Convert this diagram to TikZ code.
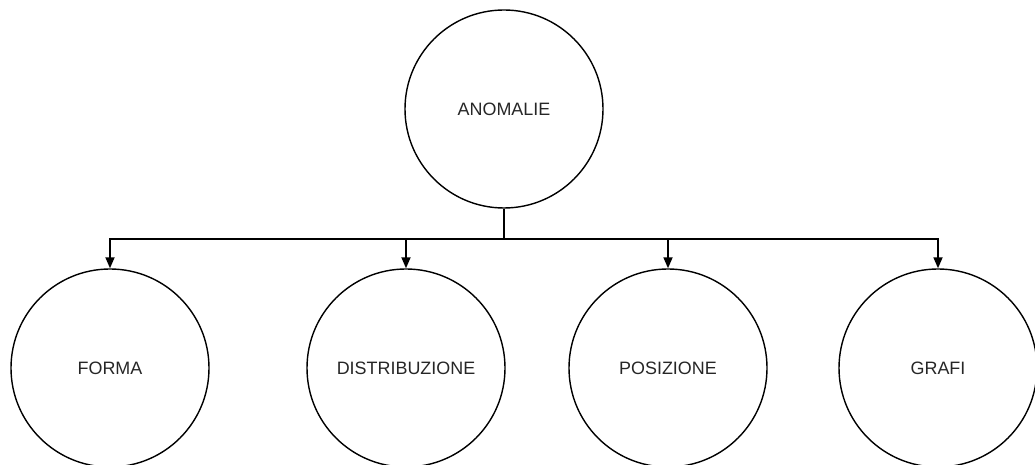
\documentclass[tikz,border=0pt]{standalone}
\usepackage{fontspec}
\setmainfont{Liberation Sans}
\usepackage{tikz}
\usetikzlibrary{arrows.meta,positioning}

\tikzset{
    blob/.style={circle, draw, line width=0.8pt, minimum size=3.96cm, inner sep=0pt, text=black!85, font=\fontsize{10.2}{12}\selectfont},
    link/.style={line width=1pt},
}

\begin{document}
\begin{tikzpicture}
    \useasboundingbox (0,0) rectangle (20.7,9.3);

    % Root
    \node[blob] (anomalie) at (10.08,7.12) {ANOMALIE};

    % Children
    \node[blob] (forma) at (2.2,1.94) {FORMA};
    \node[blob] (distribuzione) at (8.12,1.94) {DISTRIBUZIONE};
    \node[blob] (posizione) at (13.36,1.94) {POSIZIONE};
    \node[blob] (grafi) at (18.76,1.94) {GRAFI};

    % Tree lines
    \coordinate (bus) at (10.08,4.52);
    \draw[link] (anomalie) -- (bus);
    \draw[link, -{Triangle[length=0.22cm,width=0.18cm]}] (bus) -| (forma);
    \draw[link, -{Triangle[length=0.22cm,width=0.18cm]}] (bus) -| (distribuzione);
    \draw[link, -{Triangle[length=0.22cm,width=0.18cm]}] (bus) -| (posizione);
    \draw[link, -{Triangle[length=0.22cm,width=0.18cm]}] (bus) -| (grafi);
\end{tikzpicture}
\end{document}
